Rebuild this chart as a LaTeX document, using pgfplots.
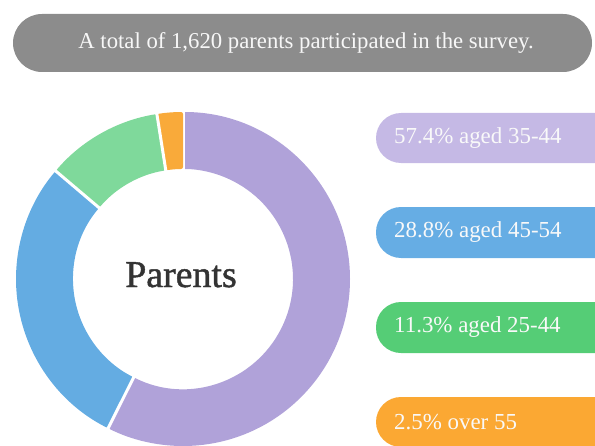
\documentclass[border=0pt]{standalone}
\usepackage{pgfplots}
\pgfplotsset{compat=1.18}
\usepackage{fontspec}
\setmainfont{Liberation Serif}
\newfontfamily\centrefont[FakeBold=1.2]{Liberation Serif}

\definecolor{ringpurple}{HTML}{B0A2D9}
\definecolor{ringblue}{HTML}{64ACE2}
\definecolor{ringgreen}{HTML}{7FD99B}
\definecolor{ringorange}{HTML}{F9AA3A}
\definecolor{pillpurple}{HTML}{C5B9E5}
\definecolor{pillblue}{HTML}{66ADE4}
\definecolor{pillgreen}{HTML}{55CD76}
\definecolor{pillorange}{HTML}{FBA833}
\definecolor{titlegray}{HTML}{8C8C8C}

% ring centre (axis units = bp, y grows downwards) and radii
\def\cx{183}
\def\cy{279}
\def\rout{167bp}
\def\rin{110bp}

% one ring segment, from cumulative share #1 to #2 (percent), clockwise from the top
\newcommand{\donutseg}[3]{%
  \fill[#3, rounded corners=2bp] ([shift={({90-3.6*#1}:\rout)}]axis cs:\cx,\cy)
    arc[start angle={90-3.6*#1}, end angle={90-3.6*#2}, radius=\rout]
    -- ([shift={({90-3.6*#2}:\rin)}]axis cs:\cx,\cy)
    arc[start angle={90-3.6*#2}, end angle={90-3.6*#1}, radius=\rin] -- cycle;
  \draw[white, line width=3bp, line cap=round]
    ([shift={({90-3.6*#1}:\rin-4bp)}]axis cs:\cx,\cy) -- ([shift={({90-3.6*#1}:\rout+4bp)}]axis cs:\cx,\cy);
}

\newcommand{\pill}[4]{% top, bottom, colour, text
  \fill[#3, rounded corners=25bp] (axis cs:376,#1) rectangle (axis cs:660,#2);
  \node[anchor=west, text=white!95!gray, inner sep=0pt,
        font=\fontsize{23}{23}\selectfont] at (axis cs:394,{(#1+#2)/2}) {#4};
}

\begin{document}
\begin{tikzpicture}
\begin{axis}[
    width=595bp, height=446bp, scale only axis,
    xmin=0, xmax=595, ymin=0, ymax=446, y dir=reverse,
    axis lines=none, clip=false]

  % title bar
  \fill[titlegray, rounded corners=29bp] (axis cs:13,14) rectangle (axis cs:592,72);
  \node[text=white!94!gray, font=\fontsize{22.8}{22.8}\selectfont]
    at (axis cs:306,43) {A total of 1,620 parents participated in the survey.};

  % shares: 57.4, 28.8, 11.3, 2.5
  \donutseg{0}{57.4}{ringpurple}
  \donutseg{57.4}{86.2}{ringblue}
  \donutseg{86.2}{97.5}{ringgreen}
  \donutseg{97.5}{100}{ringorange}

  \node[anchor=base, text=black!80, font=\centrefont\fontsize{38}{38}\selectfont]
    at (axis cs:181,287) {Parents};

  \pill{113}{163}{pillpurple}{57.4\% aged 35-44}
  \pill{207}{258}{pillblue}{28.8\% aged 45-54}
  \pill{302}{353}{pillgreen}{11.3\% aged 25-44}
  \pill{397}{447}{pillorange}{2.5\% over 55}
\end{axis}
\pgfresetboundingbox
\path (current axis.south west) rectangle (current axis.north east);
\end{tikzpicture}
\end{document}
